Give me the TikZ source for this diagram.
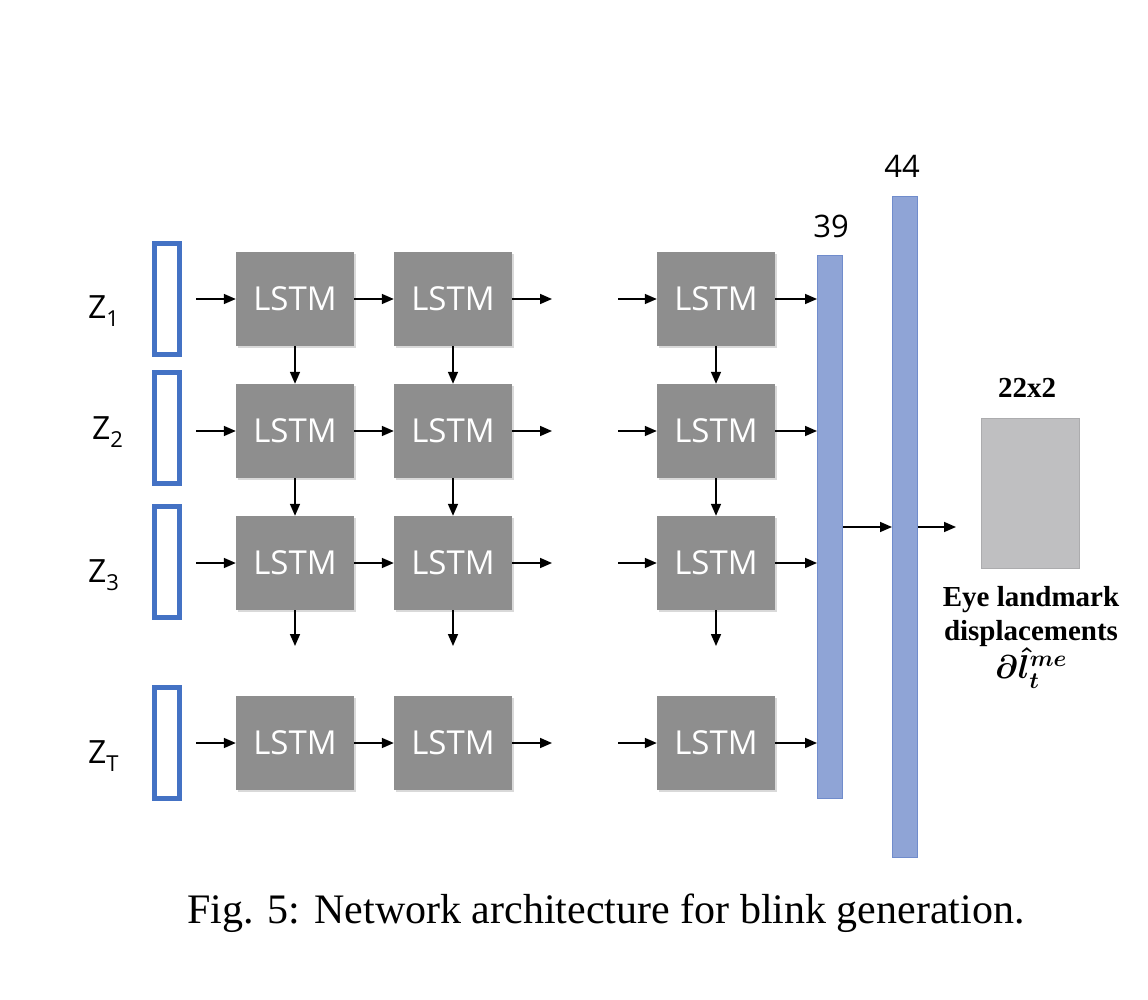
\RequirePackage{fix-cm}
\documentclass[tikz,border=0pt]{standalone}
\usepackage{amsmath}
\usepackage{fontspec}
\setmainfont{Liberation Serif}
\newfontfamily\segoe{Open Sans}
\usetikzlibrary{arrows.meta,shadows}
\definecolor{lstmgray}{RGB}{142,142,142}
\definecolor{zblue}{RGB}{68,114,196}
\definecolor{barfill}{RGB}{143,164,214}
\definecolor{barline}{RGB}{112,140,204}
\definecolor{outgray}{RGB}{191,191,193}
\begin{document}
\begin{tikzpicture}[x=1pt,y=-1pt,
  lstm/.style={fill=lstmgray, minimum width=118pt, minimum height=94pt, inner sep=0pt,
    text=white, font=\segoe\fontsize{33}{33}\selectfont,
    drop shadow={opacity=0.3, shadow xshift=1.5pt, shadow yshift=-2pt}},
  zbox/.style={draw=zblue, line width=5pt, minimum width=25pt, minimum height=111pt, inner sep=0pt},
  bar/.style={fill=barfill, draw=barline, line width=1pt, minimum width=25pt, inner sep=0pt},
  arr/.style={line width=1.6pt, -{Triangle[length=12pt,width=10pt]}},
  zlab/.style={font=\segoe\fontsize{32}{32}\selectfont, anchor=base west, inner sep=0pt},
  dimlab/.style={font=\segoe\fontsize{31}{31}\selectfont, anchor=base, inner sep=0pt},
  boldlab/.style={font=\bfseries\fontsize{29}{29}\selectfont, anchor=base, inner sep=0pt}
]
\useasboundingbox (0,0) rectangle (1148,1000);

% input vectors
\node[zbox] (v1) at (167,299) {};
\node[zbox] (v2) at (167,428) {};
\node[zbox] (v3) at (167,562) {};
\node[zbox] (v4) at (167,743) {};

% input labels
\newcommand{\zsub}[1]{\raisebox{-8pt}{\fontsize{22}{22}\selectfont #1}}
\node[zlab] (z1) at (88,318) {Z\zsub{1}};
\node[zlab] (z2) at (92,439) {Z\zsub{2}};
\node[zlab] (z3) at (88,582) {Z\zsub{3}};
\node[zlab] (z4) at (88,763) {Z\zsub{T}};

% LSTM grid
\foreach \r/\y in {1/299,2/431,3/563,4/743}{
  \node[lstm] (a\r) at (295,\y) {LSTM};
  \node[lstm] (b\r) at (453,\y) {LSTM};
  \node[lstm] (c\r) at (716,\y) {LSTM};
  \coordinate (in\r) at (196,\y);
  \coordinate (bo\r) at (552,\y);
  \coordinate (ci\r) at (618,\y);
}
\coordinate (ad) at (295,646);
\coordinate (bd) at (453,646);
\coordinate (cd) at (716,646);

% dense layers
\node[bar, minimum height=542pt] (d1) at (830,527) {};
\node[bar, minimum height=661pt] (d2) at (905,527) {};
\node[dimlab] (l39) at (831,238) {39};
\node[dimlab] (l44) at (902,178) {44};

% output
\node[fill=outgray, draw=outgray!90!black, line width=0.5pt, minimum width=98pt, minimum height=150pt, inner sep=0pt] (out) at (1030,493) {};
\node[boldlab] (sz) at (1027,397) {22x2};
\node[anchor=north, inner sep=0pt, align=center, font=\bfseries\fontsize{29}{34}\selectfont] (elab) at (1031,586)
  {Eye landmark\\displacements\\[0pt]\fontsize{33}{33}\selectfont$\boldsymbol{\partial{\hat{l}}_t^{me}}$};
\coordinate (oe) at (956,527);

% caption
\node[anchor=base, inner sep=0pt] (cap) at (606,923) {\fontsize{42}{42}\selectfont Fig. 5: Network architecture for blink generation.};

% arrows
\foreach \r in {1,2,3,4}{
  \draw[arr] (in\r) -- (a\r);
  \draw[arr] (a\r) -- (b\r);
  \draw[arr] (b\r) -- (bo\r);
  \draw[arr] (ci\r) -- (c\r);
  \draw[arr] (c\r.east) -- (c\r.east -| d1.west);
}
\foreach \c in {a,b,c}{
  \draw[arr] (\c1) -- (\c2);
  \draw[arr] (\c2) -- (\c3);
  \draw[arr] (\c3) -- (\c d);
}
\draw[arr] (d1) -- (d2);
\draw[arr] (d2) -- (oe);
\end{tikzpicture}
\end{document}
